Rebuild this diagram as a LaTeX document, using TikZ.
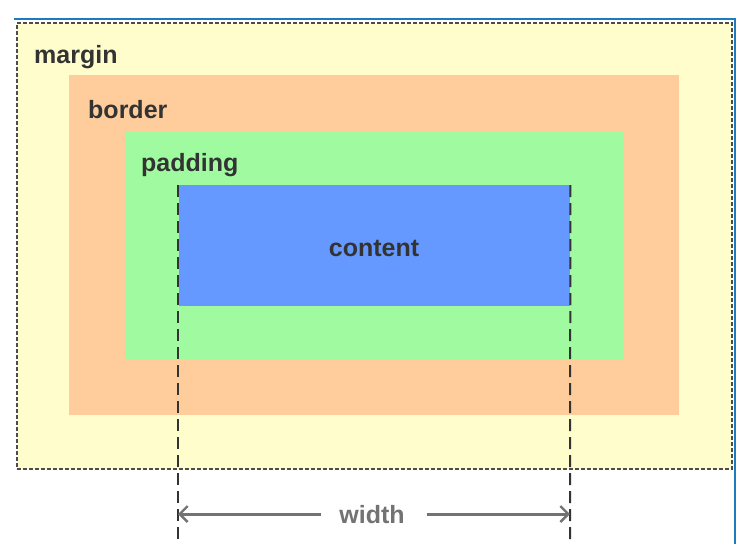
\documentclass[tikz,border=0pt]{standalone}
\usepackage{fontspec}
\setmainfont{Liberation Sans}
\usetikzlibrary{arrows.meta}
\definecolor{mrg}{HTML}{FFFDCC}
\definecolor{brd}{HTML}{FFCC9C}
\definecolor{pad}{HTML}{A0FBA0}
\definecolor{cnt}{HTML}{6699FF}
\definecolor{txt}{HTML}{333333}
\definecolor{frame}{HTML}{1C7CBC}
\tikzset{
  lbl/.style={font=\fontsize{25}{28}\selectfont\bfseries, text=txt, inner sep=0pt, anchor=west},
  guide/.style={draw=black!80, line width=2pt, dash pattern=on 12pt off 6pt},
  dim/.style={draw=black!55, line width=3pt, -{Straight Barb[length=8pt,width=16pt,line width=2.4pt]}}
}
\begin{document}
\begin{tikzpicture}[x=1pt,y=-1pt]
\useasboundingbox (0,0) rectangle (752,544);
\fill[white] (0,0) rectangle (752,544);
% outer frame
\draw[frame, line width=2pt] (14,19) -- (735,19) -- (735,544);
% boxes
\node[draw=black!70, dash pattern=on 4pt off 2pt, line width=1.5pt, fill=mrg, minimum width=715pt, minimum height=446pt, inner sep=0pt, anchor=north west] (margin) at (16,22) {};
\node[fill=brd, minimum width=610pt, minimum height=340pt, inner sep=0pt, anchor=north west] (border) at (69,75) {};
\node[fill=pad, minimum width=498pt, minimum height=228pt, inner sep=0pt, anchor=north west] (padding) at (125,131) {};
\node[fill=cnt, minimum width=391pt, minimum height=121pt, inner sep=0pt, anchor=north west] (content) at (179,185) {};
% labels
\node[lbl] (tm) at (34,57) {margin};
\node[lbl] (tb) at (88,110) {border};
\node[lbl] (tp) at (141,165) {padding};
\node[lbl, anchor=center] (tc) at (374,248) {content};
% guides
\coordinate (gl) at (178,544);
\coordinate (gr) at (570,544);
\draw[guide] (content.north west) ++(-1,0) -- (gl);
\draw[guide] (content.north east) -- (gr);
% dimension
\node[lbl, anchor=center, text=black!55] (w) at (372,515) {width};
\coordinate (al) at (178,514);
\coordinate (ar) at (570,514);
\draw[dim] (w.west) ++(-18,-1) -- (al);
\draw[dim] (w.east) ++(22,-1) -- (ar);
\end{tikzpicture}
\end{document}
